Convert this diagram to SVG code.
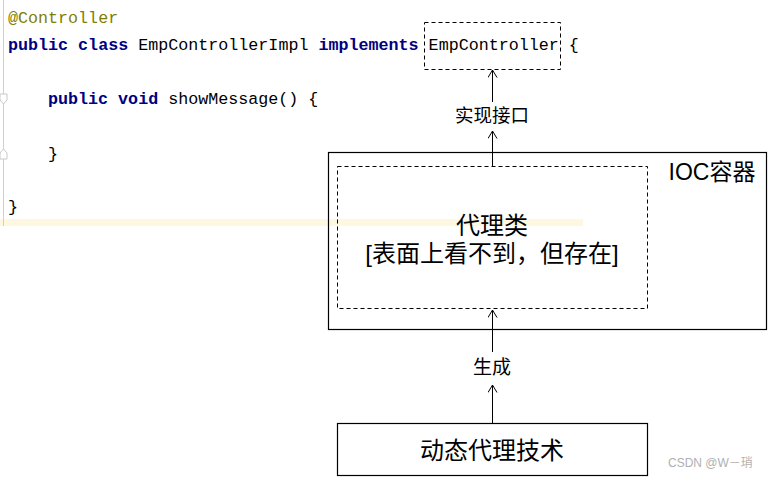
<svg xmlns="http://www.w3.org/2000/svg" width="768" height="477" viewBox="0 0 768 477">
<style>
.code{font-family:"Liberation Mono","DejaVu Sans Mono",monospace;font-size:16.7px;fill:#000}
.kw{font-weight:bold;fill:#000080}
.ann{fill:#808000}
.lbl{font-family:"Liberation Sans","Noto Sans CJK SC",sans-serif;fill:#000;text-anchor:middle}
.box{fill:none;stroke:#000;stroke-width:1.2}
.dash{fill:none;stroke:#000;stroke-width:1;stroke-dasharray:4 3}
.conn{stroke:#000;stroke-width:1;fill:none}
</style>
<defs>
<marker id="arr" viewBox="0 0 10 10" refX="9" refY="5" markerWidth="10" markerHeight="10" markerUnits="userSpaceOnUse" orient="auto">
<path d="M1.5,0.5 L9,5 L1.5,9.5" fill="none" stroke="#000" stroke-width="1"/>
</marker>
</defs>
<rect width="768" height="477" fill="#fff"/>
<g id="code">
<rect x="0" y="219" width="583" height="7" fill="#fff8e1"/>
<line x1="3.5" y1="0" x2="3.5" y2="226" stroke="#d0d0d0" stroke-width="1"/>
<path d="M0,94 H7 V100 L3.5,104 L0,100 Z" fill="#fff" stroke="#c8c8c8"/>
<path d="M0,153 L3.5,149 L7,153 V159 H0 Z" fill="#fff" stroke="#c8c8c8"/>
<text class="code" x="8" y="23"><tspan class="ann">@Controller</tspan></text>
<text class="code" x="8" y="50" xml:space="preserve"><tspan class="kw">public class</tspan> EmpControllerImpl <tspan class="kw">implements</tspan> EmpController {</text>
<text class="code" x="48" y="104" xml:space="preserve"><tspan class="kw">public void</tspan> showMessage() {</text>
<text class="code" x="48" y="159">}</text>
<text class="code" x="8" y="212">}</text>
</g>
<g id="iface">
<rect class="dash" x="424.5" y="22.5" width="136" height="47"/>
</g>
<g id="ioc">
<rect class="box" x="328.5" y="152.5" width="438" height="177"/>
<text class="lbl" x="712" y="180" font-size="23">IOC容器</text>
</g>
<g id="proxy">
<rect class="dash" x="337.5" y="166.5" width="310" height="142"/>
<text class="lbl" x="492" y="234" font-size="24">代理类</text>
<text class="lbl" x="492" y="262" font-size="24">[表面上看不到，但存在]</text>
</g>
<g id="tech">
<rect class="box" x="337.5" y="423.5" width="310" height="52"/>
<text class="lbl" x="492" y="459" font-size="24">动态代理技术</text>
</g>
<g id="connectors">
<line class="conn" x1="492.5" y1="102" x2="492.5" y2="70" marker-end="url(#arr)"/>
<line class="conn" x1="492.5" y1="166" x2="492.5" y2="131" marker-end="url(#arr)"/>
<text class="lbl" x="492" y="122" font-size="18.5">实现接口</text>
<line class="conn" x1="492.5" y1="352" x2="492.5" y2="310" marker-end="url(#arr)"/>
<line class="conn" x1="492.5" y1="423" x2="492.5" y2="385" marker-end="url(#arr)"/>
<text class="lbl" x="492" y="374" font-size="19">生成</text>
</g>
<text x="668" y="467" font-family="Liberation Sans,'Noto Sans CJK SC',sans-serif" font-size="12" fill="#b0b0b0">CSDN @W－琑</text>
</svg>
